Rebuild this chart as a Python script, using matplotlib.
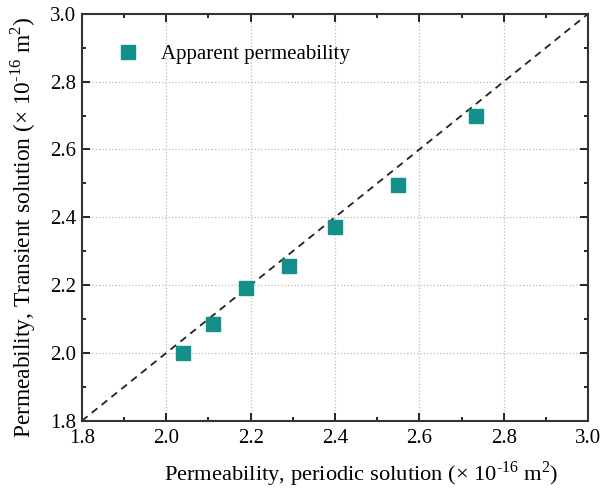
import matplotlib
matplotlib.use("Agg")
import matplotlib.pyplot as plt
from matplotlib.ticker import MultipleLocator

plt.rcParams['font.family'] = ['Liberation Serif', 'DejaVu Serif']
plt.rcParams['mathtext.fontset'] = 'custom'
plt.rcParams['mathtext.rm'] = 'Liberation Serif'

periodic = [2.04, 2.11, 2.19, 2.29, 2.40, 2.55, 2.735]
transient = [2.00, 2.085, 2.19, 2.255, 2.37, 2.495, 2.70]
diag = [1.8, 3.0]

fig = plt.figure(figsize=(6.02, 4.91), dpi=100)
ax = fig.add_axes([0.136, 0.143, 0.841, 0.829])

ax.plot(diag, diag, ls=(0, (4, 3)), color='#222222', lw=1.3, zorder=2)
ax.plot(periodic, transient, ls='none', marker='s', ms=10, color='#14908a',
        markeredgecolor='#14908a', label='Apparent permeability', zorder=3)

ax.set_xlim(1.8, 3.0)
ax.set_ylim(1.8, 3.0)
ax.xaxis.set_major_locator(MultipleLocator(0.2))
ax.yaxis.set_major_locator(MultipleLocator(0.2))
ax.xaxis.set_minor_locator(MultipleLocator(0.1))
ax.yaxis.set_minor_locator(MultipleLocator(0.1))
ax.tick_params(which='both', direction='in', top=True, right=True, labelsize=15, width=1.2)
ax.tick_params(which='major', length=6)
ax.tick_params(which='minor', length=3)
ax.tick_params(axis='x', pad=6)
ax.tick_params(axis='y', pad=4)
ax.grid(True, which='major', ls=':', color='#bbbbbb', lw=0.9)
for s in ax.spines.values():
    s.set_linewidth(1.5)
    s.set_color('#333333')

unit = r'($\times$ 10$^{\text{-}16}$ m$^2$)'
ax.set_xlabel('Permeability, periodic solution ' + unit, fontsize=16.2, labelpad=8)
ax.set_ylabel('Permeability, Transient solution ' + unit, fontsize=16.8, labelpad=9)
ax.xaxis.label.set_x(0.551)
ax.yaxis.label.set_y(0.475)

leg = ax.legend(loc='upper left', frameon=False, fontsize=15, handletextpad=0.6,
                borderaxespad=0.8, bbox_to_anchor=(0.0, 0.985))

fig.savefig('out.png', dpi=100)
